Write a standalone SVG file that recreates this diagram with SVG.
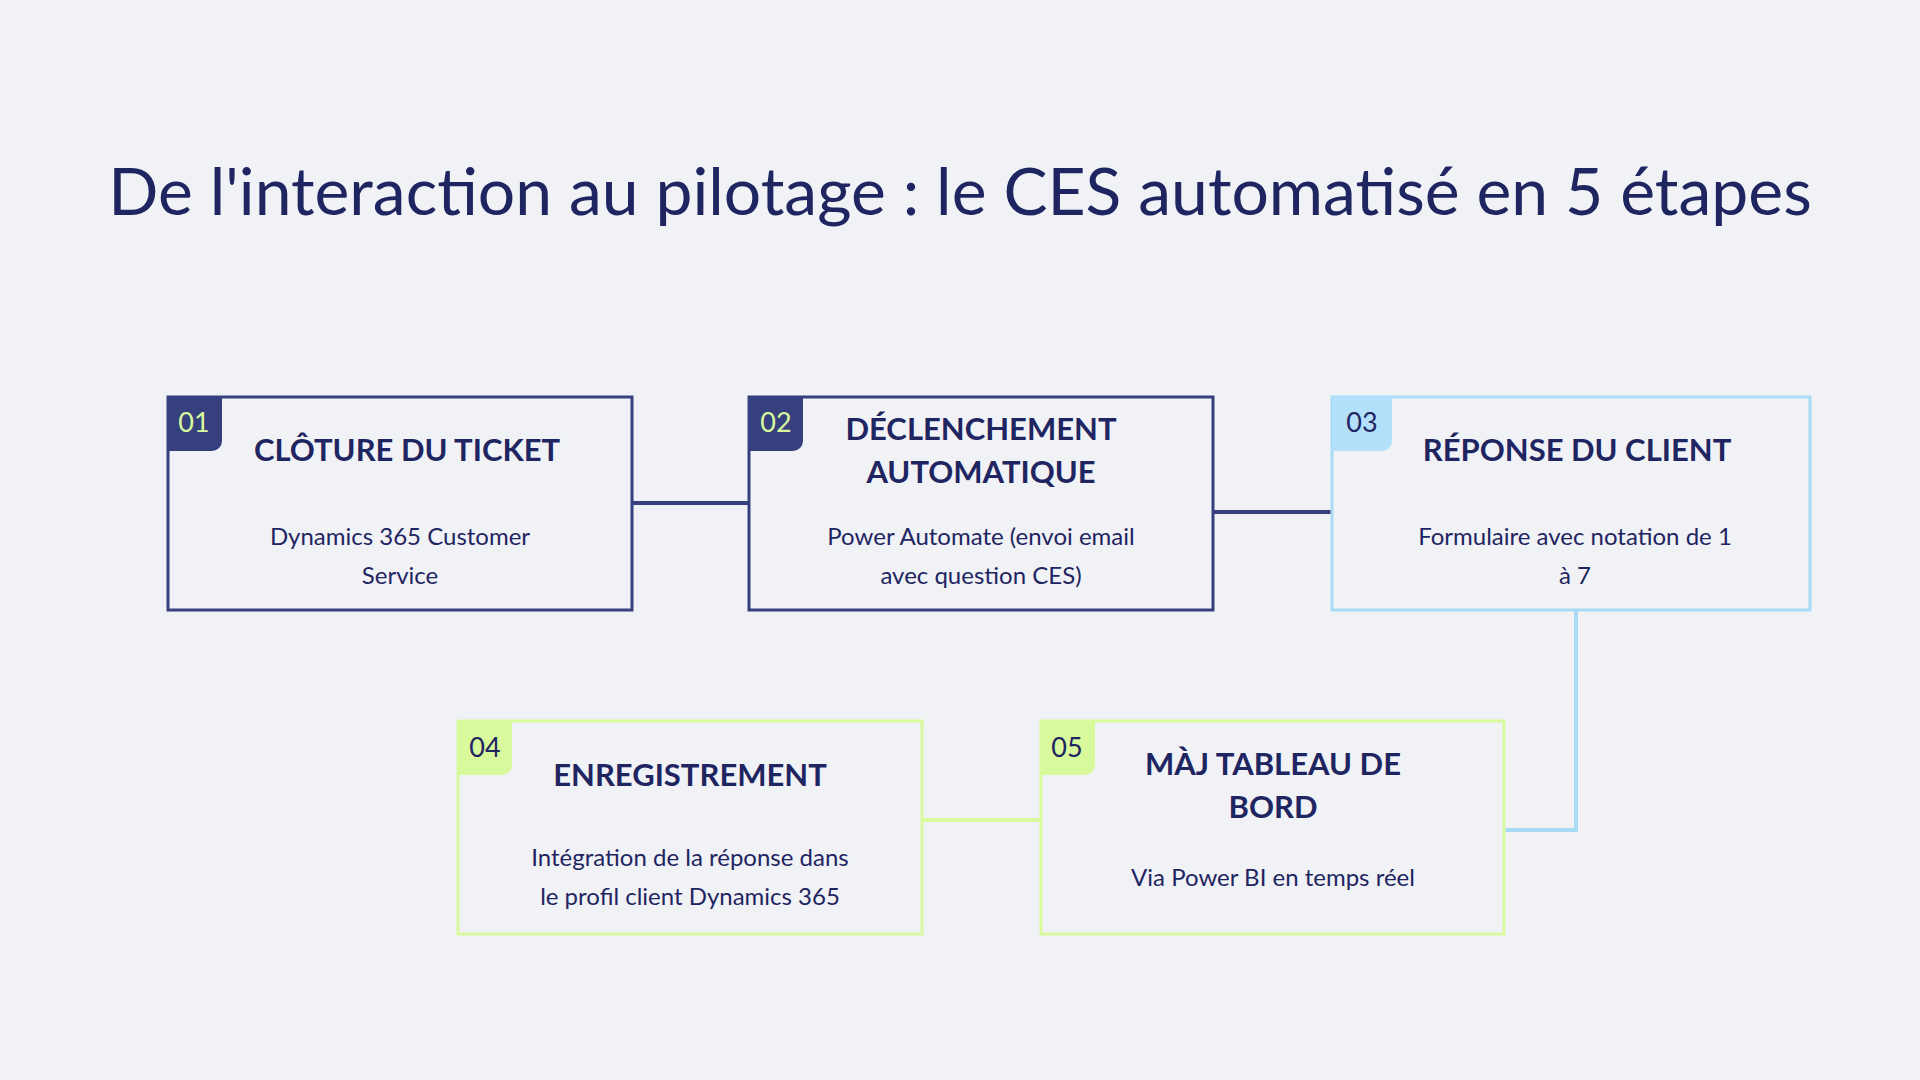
<svg xmlns="http://www.w3.org/2000/svg" width="1920" height="1080" viewBox="0 0 1920 1080">
<style>
.t{font-family:Lato,"Open Sans",sans-serif;fill:#1f2561;text-anchor:middle}
.h{font-weight:700;font-size:31px}
.d{font-size:24px}
.n{font-family:Lato,"Open Sans",sans-serif;font-size:27px}
.c{fill:none;stroke-width:4}
</style>
<rect width="1920" height="1080" fill="#f0f2f6"/>
<text class="t" x="960" y="215" font-size="66">De l'interaction au pilotage : le CES automatisé en 5 étapes</text>
<g id="connectors">
<path class="c" stroke="#36407f" d="M632 503H749M1213 512H1332"/>
<path class="c" stroke="#a9dbf7" d="M1576 610V830H1504"/>
<path class="c" stroke="#d9f99d" d="M922 820H1041"/>
</g>
<g id="n1">
<rect x="168" y="397" width="464" height="213" fill="none" stroke="#36407f" stroke-width="3"/>
<path d="M168 397h54v44a10 10 0 0 1-10 10h-44z" fill="#36407f"/>
<text class="n" x="194" y="432" fill="#d9f99d" text-anchor="middle">01</text>
<text class="t h" x="407" y="461">CLÔTURE DU TICKET</text>
<text class="t d" x="400" y="545">Dynamics 365 Customer</text>
<text class="t d" x="400" y="584">Service</text>
</g>
<g id="n2">
<rect x="749" y="397" width="464" height="213" fill="none" stroke="#36407f" stroke-width="3"/>
<path d="M749 397h54v44a10 10 0 0 1-10 10h-44z" fill="#36407f"/>
<text class="n" x="776" y="432" fill="#d9f99d" text-anchor="middle">02</text>
<text class="t h" x="981" y="440">DÉCLENCHEMENT</text>
<text class="t h" x="981" y="483">AUTOMATIQUE</text>
<text class="t d" x="981" y="545">Power Automate (envoi email</text>
<text class="t d" x="981" y="584">avec question CES)</text>
</g>
<g id="n3">
<rect x="1332" y="397" width="478" height="213" fill="none" stroke="#a9dbf7" stroke-width="3"/>
<path d="M1332 397h60v44a10 10 0 0 1-10 10h-50z" fill="#b3e0fb"/>
<text class="n" x="1362" y="432" fill="#1f2561" text-anchor="middle">03</text>
<text class="t h" x="1577" y="461">RÉPONSE DU CLIENT</text>
<text class="t d" x="1575" y="545">Formulaire avec notation de 1</text>
<text class="t d" x="1575" y="584">à 7</text>
</g>
<g id="n4">
<rect x="458" y="721" width="464" height="213" fill="none" stroke="#d9f99d" stroke-width="3"/>
<path d="M458 721h54v44a10 10 0 0 1-10 10h-44z" fill="#d9f99d"/>
<text class="n" x="485" y="757" fill="#1f2561" text-anchor="middle">04</text>
<text class="t h" x="690" y="786">ENREGISTREMENT</text>
<text class="t d" x="690" y="866">Intégration de la réponse dans</text>
<text class="t d" x="690" y="905">le profil client Dynamics 365</text>
</g>
<g id="n5">
<rect x="1041" y="721" width="463" height="213" fill="none" stroke="#d9f99d" stroke-width="3"/>
<path d="M1041 721h54v44a10 10 0 0 1-10 10h-44z" fill="#d9f99d"/>
<text class="n" x="1067" y="757" fill="#1f2561" text-anchor="middle">05</text>
<text class="t h" x="1273" y="775">MÀJ TABLEAU DE</text>
<text class="t h" x="1273" y="818">BORD</text>
<text class="t d" x="1273" y="886">Via Power BI en temps réel</text>
</g>
</svg>
